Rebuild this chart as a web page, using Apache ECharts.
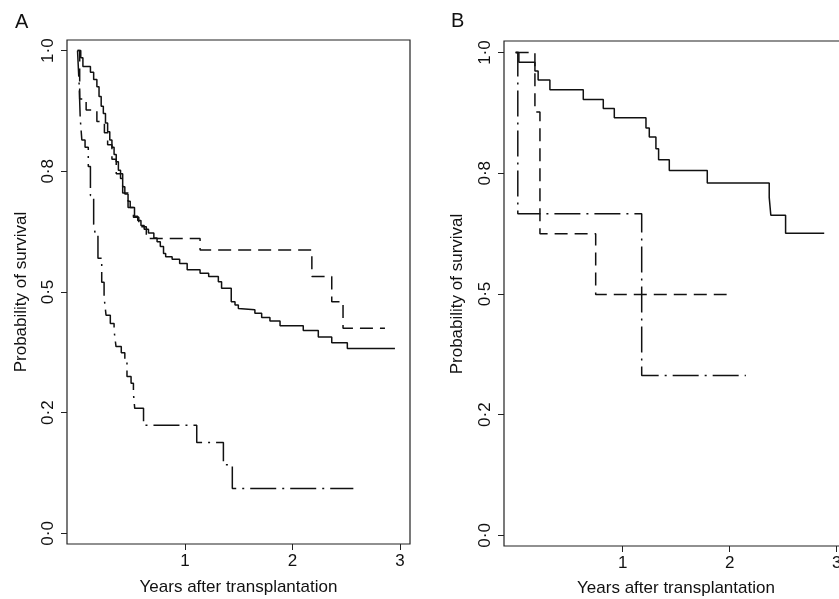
<!DOCTYPE html>
<html>
<head>
<meta charset="utf-8">
<script src="https://cdn.jsdelivr.net/npm/echarts@6/dist/echarts.min.js"></script>
<style>
html,body{margin:0;padding:0;background:#fff;}
#chart{width:839px;height:599px;}
</style>
</head>
<body>
<div id="chart"></div>
<script>
// ---- Data (time in years, survival probability) ----
const panelTitles = ['A', 'B'];
const xTitle = 'Years after transplantation';
const yTitle = 'Probability of survival';
const xTickValues = [1, 2, 3];
const yTickValues = [0, 0.25, 0.5, 0.75, 1];
const yTickLabels = ['0·0', '0·2', '0·5', '0·8', '1·0'];

// Panel A
const aSolid = [[0,1],[0.03,0.985],[0.05,0.967],[0.12,0.955],[0.15,0.94],[0.18,0.925],[0.2,0.905],[0.22,0.885],[0.24,0.87],[0.26,0.85],[0.28,0.832],[0.3,0.815],[0.32,0.8],[0.34,0.785],[0.36,0.77],[0.38,0.752],[0.4,0.735],[0.42,0.718],[0.44,0.703],[0.47,0.688],[0.49,0.675],[0.53,0.657],[0.56,0.648],[0.59,0.638],[0.62,0.63],[0.66,0.622],[0.71,0.612],[0.74,0.604],[0.77,0.594],[0.8,0.58],[0.82,0.573],[0.88,0.568],[0.95,0.559],[1.02,0.546],[1.14,0.539],[1.22,0.532],[1.31,0.521],[1.34,0.508],[1.43,0.48],[1.465,0.473],[1.496,0.466],[1.51,0.463],[1.65,0.456],[1.713,0.447],[1.79,0.44],[1.884,0.43],[2.1,0.42],[2.24,0.407],[2.365,0.395],[2.51,0.383],[2.953,0.383]];
const aDashed = [[0,1],[0.02,0.9],[0.08,0.877],[0.18,0.853],[0.25,0.83],[0.28,0.805],[0.32,0.775],[0.36,0.745],[0.42,0.705],[0.47,0.675],[0.52,0.655],[0.57,0.635],[0.64,0.611],[1.14,0.587],[2.18,0.532],[2.365,0.48],[2.47,0.425],[2.86,0.425]];
const aDotDash = [[0,1],[0.015,0.93],[0.025,0.86],[0.04,0.815],[0.07,0.8],[0.1,0.76],[0.12,0.7],[0.15,0.64],[0.165,0.62],[0.19,0.57],[0.225,0.52],[0.247,0.49],[0.265,0.452],[0.305,0.435],[0.34,0.42],[0.358,0.387],[0.407,0.374],[0.44,0.36],[0.46,0.325],[0.498,0.311],[0.52,0.29],[0.532,0.259],[0.614,0.224],[1.109,0.188],[1.357,0.142],[1.44,0.093],[2.566,0.093]];

// Panel B
const bSolid = [[0,1],[0.03,0.98],[0.18,0.962],[0.21,0.943],[0.32,0.923],[0.632,0.903],[0.819,0.884],[0.922,0.865],[1.218,0.844],[1.249,0.825],[1.311,0.801],[1.336,0.778],[1.436,0.756],[1.791,0.73],[2.37,0.7],[2.385,0.663],[2.523,0.626],[2.884,0.626]];
const bDashed = [[0,1],[0.18,0.877],[0.227,0.625],[0.748,0.499],[1.972,0.499]];
const bDotDash = [[0,1],[0.02,0.666],[1.178,0.331],[2.152,0.331]];

const INK = '#111';
const FONT = '"Liberation Sans", Arial, sans-serif';

function xAxisFor(gi, min, max) {
  return {
    type: 'value', gridIndex: gi, min: min, max: max,
    splitLine: {show: false},
    axisLine: {show: false, onZero: false},
    axisTick: {show: true, length: 6, lineStyle: {color: '#222', width: 1}, customValues: xTickValues},
    axisLabel: {show: true, customValues: xTickValues, margin: 9, color: INK, fontSize: 17, fontFamily: FONT,
      formatter: v => String(v)}
  };
}
function yAxisFor(gi, min, max) {
  return {
    type: 'value', gridIndex: gi, min: min, max: max,
    splitLine: {show: false},
    axisLine: {show: false, onZero: false},
    axisTick: {show: true, length: 6, lineStyle: {color: '#222', width: 1}, customValues: yTickValues},
    axisLabel: {show: true, customValues: yTickValues, rotate: 90, margin: 10, color: INK, fontSize: 17, fontFamily: FONT,
      formatter: v => yTickLabels[yTickValues.indexOf(v)]}
  };
}
function km(name, data, gi, type) {
  return {
    name: name, type: 'line', xAxisIndex: gi, yAxisIndex: gi, data: data, step: 'end',
    showSymbol: false, symbol: 'none', animation: false, silent: true, clip: false,
    lineStyle: {color: INK, width: 1.5, type: type, cap: 'butt'}
  };
}

const chart = echarts.init(document.getElementById('chart'), null, {renderer: 'canvas'});
chart.setOption({
  backgroundColor: '#fff',
  animation: false,
  grid: [
    {left: 67, top: 40, width: 343, height: 504, show: true, borderColor: '#222', borderWidth: 1.2, backgroundColor: 'transparent', containLabel: false, outerBoundsMode: 'none'},
    {left: 504, top: 41, width: 343, height: 505, show: true, borderColor: '#222', borderWidth: 1.2, backgroundColor: 'transparent', containLabel: false, outerBoundsMode: 'none'}
  ],
  xAxis: [xAxisFor(0, -0.098, 3.093), xAxisFor(1, -0.109, 3.097)],
  yAxis: [yAxisFor(0, -0.022, 1.022), yAxisFor(1, -0.022, 1.024)],
  series: [
    km('A solid', aSolid, 0, 'solid'),
    km('A dashed', aDashed, 0, [13, 7]),
    km('A dot-dash', aDotDash, 0, [26, 6, 2, 6]),
    km('B solid', bSolid, 1, 'solid'),
    km('B dashed', bDashed, 1, [13, 7]),
    km('B dot-dash', bDotDash, 1, [26, 6, 2, 6])
  ],
  graphic: [
    {type: 'text', left: 15, top: 12, style: {text: panelTitles[0], font: '20px ' + FONT, fill: INK}},
    {type: 'text', left: 451, top: 11, style: {text: panelTitles[1], font: '20px ' + FONT, fill: INK}},
    {type: 'text', x: 238.5, y: 587, style: {text: xTitle, font: '17px ' + FONT, fill: INK, align: 'center', verticalAlign: 'middle'}},
    {type: 'text', x: 676, y: 588, style: {text: xTitle, font: '17px ' + FONT, fill: INK, align: 'center', verticalAlign: 'middle'}},
    {type: 'text', x: 21, y: 292, rotation: Math.PI / 2, style: {text: yTitle, font: '17px ' + FONT, fill: INK, align: 'center', verticalAlign: 'middle'}},
    {type: 'text', x: 457, y: 294, rotation: Math.PI / 2, style: {text: yTitle, font: '17px ' + FONT, fill: INK, align: 'center', verticalAlign: 'middle'}}
  ]
});
</script>
</body>
</html>
